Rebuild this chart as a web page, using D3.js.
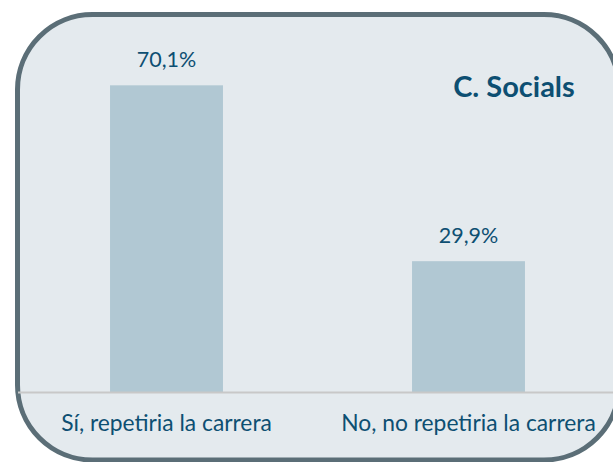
<!DOCTYPE html>
<html><head><meta charset="utf-8">
<script src="https://cdn.jsdelivr.net/npm/d3@7"></script>
<style>html,body{margin:0;padding:0;background:#fff;}svg{display:block;}</style>
</head><body>
<svg id="chart" width="613" height="462"></svg>
<script>
const categories = ["Sí, repetiria la carrera", "No, no repetiria la carrera"];
const values = [70.1, 29.9];
const valueLabels = ["70,1%", "29,9%"];
const title = "C. Socials";

const svg = d3.select("#chart");
const font = "Lato, 'Open Sans', sans-serif";
const textColor = "#0d4f72";

svg.append("rect")
  .attr("x", 17.5).attr("y", 14.5).attr("width", 601.5).attr("height", 445.5)
  .attr("rx", 75).attr("ry", 75)
  .attr("fill", "#e4eaee").attr("stroke", "#5b6e77").attr("stroke-width", 5);

const x = d3.scaleBand().domain(categories).range([15.5, 619.5])
  .paddingInner(0.626).paddingOuter(0.313);
const y = d3.scaleLinear().domain([0, 80]).range([392, 42]);

svg.append("g").selectAll("rect").data(values).join("rect")
  .attr("x", (d, i) => x(categories[i]))
  .attr("y", d => y(d))
  .attr("width", x.bandwidth())
  .attr("height", d => y(0) - y(d))
  .attr("fill", "#b1c8d3");

svg.append("line")
  .attr("x1", 18).attr("x2", 616).attr("y1", y(0) + 0.5).attr("y2", y(0) + 0.5)
  .attr("stroke", "#c8c8c8").attr("stroke-width", 2);

svg.append("g").selectAll("text").data(values).join("text")
  .attr("x", (d, i) => x(categories[i]) + x.bandwidth() / 2)
  .attr("y", d => y(d) - 18)
  .attr("text-anchor", "middle")
  .attr("font-family", font).attr("font-size", 21.5)
  .attr("fill", textColor)
  .text((d, i) => valueLabels[i]);

svg.append("g").selectAll("text").data(categories).join("text")
  .attr("x", d => x(d) + x.bandwidth() / 2)
  .attr("y", 431)
  .attr("text-anchor", "middle")
  .attr("font-family", font).attr("font-size", 22.8)
  .attr("fill", textColor)
  .text(d => d);

svg.append("text")
  .attr("x", 514).attr("y", 97)
  .attr("text-anchor", "middle")
  .attr("font-family", font).attr("font-size", 29).attr("font-weight", "bold")
  .attr("fill", textColor)
  .text(title);
</script>
</body></html>
